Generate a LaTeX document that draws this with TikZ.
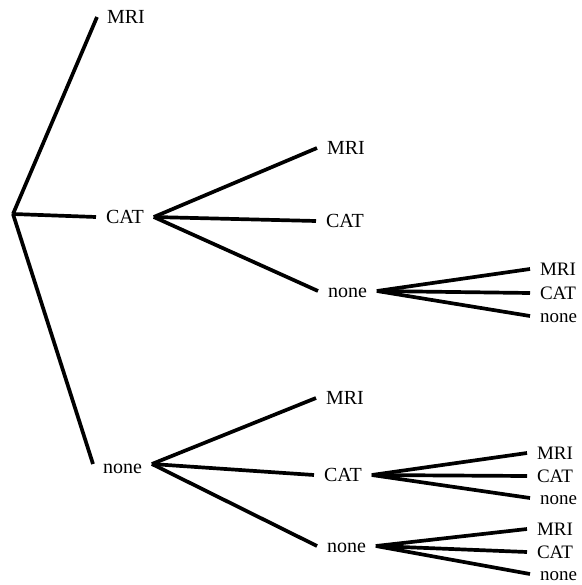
\documentclass[tikz,border=0pt]{standalone}
\usepackage{fontspec}
\setmainfont{Liberation Serif}
\begin{document}
\begin{tikzpicture}[x=1pt,y=-1pt,line width=3.7pt,
	lab/.style={anchor=west,inner sep=0pt,outer xsep=10pt,text height=13pt,text depth=0pt,font=\fontsize{20}{24}\selectfont},
	leaf/.style={lab,text height=12pt,font=\fontsize{19}{22}\selectfont}]
		\useasboundingbox(0,0)rectangle(581,585);
		\coordinate(R)at(13,214);
		\node[lab](A1)at(97,17){MRI};
		\node[lab](A2)at(96,217){CAT};
		\node[lab,text height=18pt](A3)at(93,464){none};
		\node[lab](B1)at(317,148){MRI};
		\node[lab](B2)at(316,221){CAT};
		\node[lab](B3)at(318,291){none};
		\node[leaf](C1)at(530,269){MRI};
		\node[leaf](C2)at(530,293){CAT};
		\node[leaf](C3)at(530,316){none};
		\node[lab](D1)at(316,398){MRI};
		\node[lab](D2)at(314,475){CAT};
		\node[lab](D3)at(317,546){none};
		\node[leaf](E1)at(527,453){MRI};
		\node[leaf](E2)at(527,476){CAT};
		\node[leaf](E3)at(530,498){none};
		\node[leaf](F1)at(527,529){MRI};
		\node[leaf](F2)at(527,552){CAT};
		\node[leaf](F3)at(530,574){none};
		\foreach \k in {1,...,3} {
			\draw(R)--(A\k.west);
			\draw(A2.east)--(B\k.west);
			\draw(B3.east)--(C\k.west);
			\draw(A3.east)--(D\k.west);
			\draw(D2.east)--(E\k.west);
			\draw(D3.east)--(F\k.west);
		}
	\end{tikzpicture}
\end{document}
